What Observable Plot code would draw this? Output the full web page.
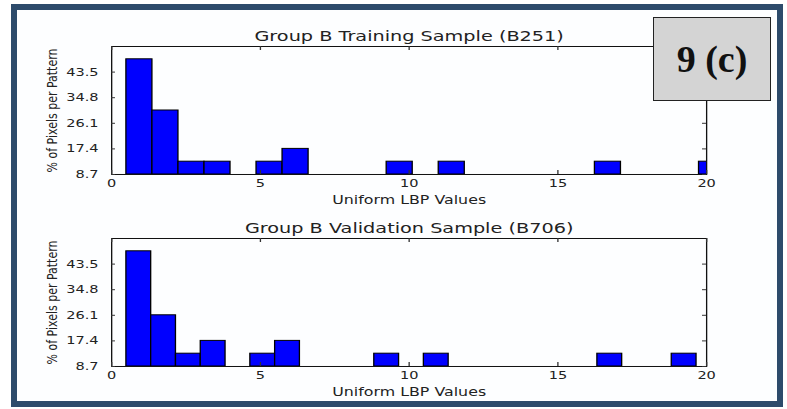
<!DOCTYPE html>
<html><head><meta charset="utf-8">
<script src="https://cdn.jsdelivr.net/npm/d3@7"></script>
<script src="https://cdn.jsdelivr.net/npm/@observablehq/plot@0.6"></script>
<style>
html,body{margin:0;padding:0;background:#fff;width:787px;height:409px;overflow:hidden;}
#frame{position:absolute;left:11px;top:4px;width:772px;height:403px;box-sizing:border-box;border:6px solid #2d4b6b;background:#fdfeff;}
.panel{position:absolute;left:0;transform-origin:0 0;}
.panel svg{display:block;overflow:visible;}
#badge{position:absolute;left:653px;top:17px;width:118px;height:84px;box-sizing:border-box;border:1.5px solid #222;background:#d4d4d4;font-family:"Liberation Serif",serif;font-weight:bold;font-size:38px;color:#111;display:flex;align-items:center;justify-content:center;}
</style></head><body>
<div id="frame"></div>
<div id="top" class="panel"></div>
<div id="bottom" class="panel"></div>
<div id="badge">9 (c)</div>
<script>
// ---- data ----
const xTicks = [0, 5, 10, 15, 20];
const yTicks = [8.7, 17.4, 26.1, 34.8, 43.5];
const yMax = 52.2;
const xLabel = "Uniform LBP Values";
const yLabel = "% of Pixels per Pattern";

const trainTitle = "Group B Training Sample (B251)";
const trainBinWidth = 0.875;
const trainBinStart = [0.5, 1.375, 2.25, 3.125, 4.875, 5.75, 9.25, 11.0, 16.25, 19.75];
const trainValues   = [47.85, 30.45, 13.05, 13.05, 13.05, 17.4, 13.05, 13.05, 13.05, 13.05];

const valTitle = "Group B Validation Sample (B706)";
const valBinWidth = 0.8333;
const valBinStart = [0.5, 1.333, 2.167, 3.0, 4.667, 5.5, 8.833, 10.5, 16.333, 18.833];
const valValues   = [47.85, 26.1, 13.05, 17.4, 13.05, 17.4, 13.05, 13.05, 13.05, 13.05];

// ---- drawing ----
const S = 1.32; // horizontal stretch of the original figure
function panel(el, title, starts, bw, values, svgTop, plotTop, plotBottom, svgBottom) {
  const left = 111, right = 706;
  const H = plotBottom - plotTop;
  const W = (right - left) / S;
  const data = starts.map((x, i) => ({x1: x, x2: x + bw, y: values[i]}));
  const yMin = yTicks[0];
  const tk = {stroke: "#333", strokeWidth: 1};
  const plot = Plot.plot({
    width: 787 / S,
    height: svgBottom - svgTop,
    marginLeft: left / S,
    marginRight: (787 - right) / S,
    marginTop: plotTop - svgTop,
    marginBottom: svgBottom - plotBottom,
    style: {fontFamily: "DejaVu Sans", fontSize: "11px", color: "#222", background: "transparent", overflow: "visible"},
    x: {domain: [0, 20], ticks: xTicks, label: null},
    y: {domain: [yMin, yMax], ticks: yTicks, label: null},
    marks: [
      Plot.rect(data, {x1: "x1", x2: "x2", y1: yMin, y2: "y", fill: "#0000ff", stroke: "#000", strokeWidth: 1, clip: true}),
      Plot.frame({stroke: "#111", strokeWidth: 1}),
      Plot.axisX({ticks: xTicks, tickSize: 0, tickPadding: 5, fontSize: 11, tickFormat: d => String(d)}),
      Plot.axisY({ticks: yTicks, tickSize: 0, tickPadding: 10, fontSize: 11, tickFormat: d => d.toFixed(1)}),
      Plot.tickX(xTicks, {x: d => d, insetTop: H - 4, ...tk}),
      Plot.tickX(xTicks, {x: d => d, insetBottom: H - 4, ...tk}),
      Plot.tickY(yTicks, {y: d => d, insetRight: W - 3, ...tk}),
      Plot.tickY(yTicks, {y: d => d, insetLeft: W - 3, ...tk}),
      Plot.text([title], {frameAnchor: "top", dy: -5, lineAnchor: "bottom", fontSize: 14.6, fill: "#222"}),
      Plot.text([xLabel], {frameAnchor: "bottom", dy: 25.5, lineAnchor: "middle", fontSize: 12, fill: "#222"}),
      Plot.text([yLabel], {frameAnchor: "left", dx: -(left - 52) / S, rotate: -90, textAnchor: "middle", lineAnchor: "middle", fontSize: 11, fill: "#222"})
    ]
  });
  el.style.top = svgTop + "px";
  el.style.transform = `scaleX(${S})`;
  el.appendChild(plot);
}
panel(document.getElementById("top"), trainTitle, trainBinStart, trainBinWidth, trainValues, 18, 46, 174, 208);
panel(document.getElementById("bottom"), valTitle, valBinStart, valBinWidth, valValues, 210, 238, 366, 400);
</script>
</body></html>
